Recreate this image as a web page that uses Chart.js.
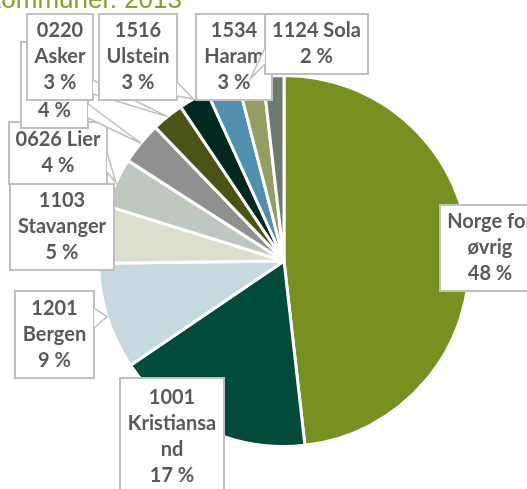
<!DOCTYPE html>
<html>
<head>
<meta charset="utf-8">
<script src="https://cdn.jsdelivr.net/npm/chart.js@4.4.1/dist/chart.umd.min.js"></script>
<style>
    html, body { margin: 0; padding: 0; background: #fff; }
    #wrap { width: 527px; height: 489px; position: relative; }
</style>
</head>
<body>
<div id="wrap"><canvas id="pieChart"></canvas></div>
<script>
// Data (clockwise from 12 o'clock)
const categories = [
    'Norge for øvrig', '1001 Kristiansand', '1201 Bergen', '1103 Stavanger',
    '0626 Lier', 'Annen kommune 1', '0220 Asker', '1516 Ulstein',
    '1534 Haram', '1124 Sola', 'Annen kommune 2'
];
const shares = [48.2, 17.3, 9.3, 5.0, 4.3, 3.7, 2.8, 2.6, 2.8, 2.2, 1.8];
const sliceColors = [
    '#78901f', '#014b3b', '#c6d9e1', '#dcdfcb', '#bfc7c1', '#909090',
    '#4a5415', '#00291f', '#4f8faf', '#939e60', '#6c7b72'
];
const titleText = 'kommuner. 2013';

// Callout boxes (layout only), drawn in this order. base = pointer foot on the box edge
const calloutBoxes = [
    { i: 3, x: 10, y: 184, w: 104, h: 86 },
    { i: 4, x: 9, y: 122, w: 98, h: 62, base: [[107, 152], [107, 172]] },
    { i: 5, x: 21, y: 42, w: 67, h: 86, base: [[88, 104], [88, 118]], hideName: true },
    { i: 6, x: 27, y: 14, w: 66, h: 86, base: [[93, 80], [93, 94]] },
    { i: 7, x: 99, y: 14, w: 78, h: 86, base: [[177, 82], [177, 96]] },
    { i: 8, x: 196, y: 14, w: 76, h: 86 },
    { i: 9, x: 265, y: 14, w: 103, h: 60, base: [[265, 48], [265, 64]] },
    { i: 2, x: 15, y: 291, w: 79, h: 87, base: [[94, 308], [94, 328]] },
    { i: 1, x: 120, y: 378, w: 104, h: 118, wrap: 90 },
    { i: 0, x: 440, y: 205, w: 100, h: 86 }
];

/**
 * Bryter tekst i linjer (ord først, deretter tegn)
 */
function wrapText(ctx, text, maxW) {
    const lines = [];
    let cur = '';
    text.split(' ').forEach(word => {
        const test = cur ? cur + ' ' + word : word;
        if (ctx.measureText(test).width <= maxW) {
            cur = test;
            return;
        }
        if (cur) lines.push(cur);
        cur = '';
        for (const ch of word) {
            if (ctx.measureText(cur + ch).width > maxW && cur) {
                lines.push(cur);
                cur = ch;
            } else {
                cur += ch;
            }
        }
    });
    if (cur) lines.push(cur);
    return lines;
}

const calloutPlugin = {
    id: 'callouts',
    afterDraw(chart) {
        const ctx = chart.ctx;
        const arcs = chart.getDatasetMeta(0).data;
        const total = shares.reduce((a, b) => a + b, 0);

        ctx.save();
        // title (cut at top edge)
        ctx.font = '26px "Liberation Sans"';
        ctx.fillStyle = '#86a02a';
        ctx.textAlign = 'right';
        ctx.textBaseline = 'alphabetic';
        ctx.fillText(titleText, 182, 8);

        ctx.font = 'bold 20px Lato';
        ctx.textAlign = 'center';
        ctx.textBaseline = 'middle';

        calloutBoxes.forEach(b => {
            ctx.fillStyle = '#ffffff';
            ctx.fillRect(b.x, b.y, b.w, b.h);
            ctx.strokeStyle = '#bfbfbf';
            ctx.lineWidth = 2;
            ctx.strokeRect(b.x, b.y, b.w, b.h);

            // pointer wedge towards the slice edge
            if (b.base) {
                const p = arcs[b.i].getProps(['x', 'y', 'startAngle', 'endAngle', 'outerRadius'], true);
                const mid = (p.startAngle + p.endAngle) / 2;
                const tx = p.x + Math.cos(mid) * p.outerRadius;
                const ty = p.y + Math.sin(mid) * p.outerRadius;
                const [a, c] = b.base;
                ctx.fillStyle = '#ffffff';
                ctx.beginPath();
                ctx.moveTo(a[0], a[1]);
                ctx.lineTo(tx, ty);
                ctx.lineTo(c[0], c[1]);
                ctx.closePath();
                ctx.fill();
                ctx.strokeStyle = '#bfbfbf';
                ctx.lineWidth = 1.5;
                ctx.beginPath();
                ctx.moveTo(a[0], a[1]);
                ctx.lineTo(tx, ty);
                ctx.lineTo(c[0], c[1]);
                ctx.stroke();
            }

            const pct = Math.round(shares[b.i] / total * 100) + ' %';
            let lines = b.hideName ? ['', ''] : wrapText(ctx, categories[b.i], b.wrap || b.w - 8);
            lines = lines.concat([pct]);
            const cx = b.x + b.w / 2;
            const cy = b.y + b.h / 2;
            ctx.fillStyle = '#595959';
            lines.forEach((l, k) => {
                if (l) ctx.fillText(l, cx, cy + (k - (lines.length - 1) / 2) * 26);
            });
        });
        ctx.restore();
    }
};

new Chart(document.getElementById('pieChart'), {
    type: 'pie',
    data: {
        labels: categories,
        datasets: [{
            data: shares,
            backgroundColor: sliceColors,
            borderColor: '#ffffff',
            borderWidth: 3,
        }],
    },
    options: {
        responsive: true,
        maintainAspectRatio: false,
        animation: false,
        layout: {
            padding: { left: 97, right: 56, top: 74, bottom: 41 },
        },
        plugins: {
            legend: { display: false },
            tooltip: { enabled: false },
        },
    },
    plugins: [calloutPlugin],
});
</script>
</body>
</html>
